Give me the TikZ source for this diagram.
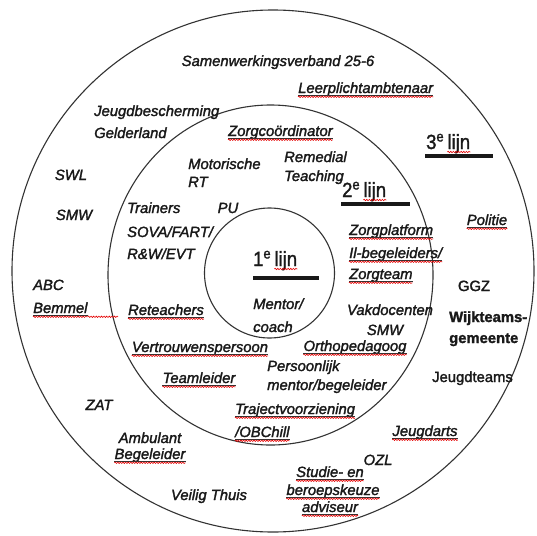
\documentclass[tikz,border=0pt]{standalone}
\usepackage{fontspec}
\setmainfont{Liberation Sans}[FakeBold=1.8]
\newfontfamily\lijfont{Liberation Sans}[FakeStretch=0.9, FakeBold=1.5]
\usetikzlibrary{decorations.pathmorphing}
\newcommand\tf{\fontsize{14.8}{17}\selectfont}
\newcommand\lf{\lijfont\fontsize{20.5}{22}\selectfont}
\begin{document}
\begin{tikzpicture}[x=1pt,y=-1pt,
  ring/.style={draw=black!80, line width=1.1pt},
  bar/.style={draw=black!90, line width=4pt},
  t/.style={inner sep=0pt, font=\tf\itshape, text=black!90},
  tr/.style={inner sep=0pt, font=\tf, text=black!90},
  tb/.style={inner sep=0pt, font=\tf\bfseries, text=black!90},
  lij/.style={inner sep=0pt, font=\lf, text=black!90},
  ulline/.style={draw=black!80, line width=0.6pt},
  squig/.style={draw=red!90!black, line width=0.6pt, decorate,
     decoration={snake, amplitude=0.7pt, segment length=2.6pt}},
  u/.style={append after command={
     ([yshift=-2pt]\tikzlastnode.base west) edge[ulline] ([yshift=-2pt]\tikzlastnode.base east)
     ([yshift=-3.8pt]\tikzlastnode.base west) edge[squig] ([yshift=-3.8pt]\tikzlastnode.base east)}},
  sq/.style={append after command={
     ([yshift=-3pt]\tikzlastnode.base west) edge[squig] ([yshift=-3pt]\tikzlastnode.base east)}}
]
\useasboundingbox (0,0) rectangle (537,535);
\fill[white] (0,0) rectangle (537,535);

% rings
\draw[ring] (273,271) circle[radius=261pt];
\draw[ring] (270.5,275) ellipse[x radius=162.5pt, y radius=170pt];
\draw[ring] (269.5,273) circle[radius=65pt];

% ----- outer ring (3e lijn)
\node[t, anchor=base] (sam) at (278,66) {Samenwerkingsverband 25-6};
\node[t, u, anchor=base west] (leer) at (298,93) {Leerplichtambtenaar};
\node[t, anchor=base west] (jb1) at (94,116) {Jeugdbescherming};
\node[t, anchor=base west] (jb2) at (94,138) {Gelderland};
\node[lij, anchor=base west] (l3a) at (426,149) {3\textsuperscript{e}};
\node[lij, sq, anchor=base west] (l3b) at ([xshift=3pt]l3a.base east) {lijn};
\coordinate (b3a) at (425,156);
\coordinate (b3b) at (493,156);
\draw[bar] (b3a) -- (b3b);
\node[t, anchor=base] (swl) at (71,180) {SWL};
\node[t, anchor=base] (smw) at (74,220) {SMW};
\node[t, anchor=base west] (abc) at (33,290) {ABC};
\node[t, u, anchor=base west] (bem) at (33,313) {Bemmel};
\coordinate (bemx) at (118,316.8);
\draw[squig] ([yshift=-3.8pt]bem.base east) -- (bemx);
\node[t, u, anchor=base] (pol) at (487,225) {Politie};
\node[tr, anchor=base] (ggz) at (474,291) {GGZ};
\node[tb, anchor=base west] (wk1) at (449,322) {Wijkteams-};
\node[tb, anchor=base west] (wk2) at (449,343) {gemeente};
\node[tr, anchor=base west] (jt) at (432,382) {Jeugdteams};
\node[t, anchor=base] (zat) at (99,410) {ZAT};
\node[t, anchor=base] (amb1) at (150,443) {Ambulant};
\node[t, u, anchor=base] (amb2) at (150,459) {Begeleider};
\node[t, anchor=base] (vt) at (209,500) {Veilig Thuis};
\node[t, u, anchor=base] (ja) at (425,436) {Jeugdarts};
\node[t, anchor=base] (ozl) at (378,465) {OZL};
\node[t, u, anchor=base] (st1) at (330,477) {Studie- en};
\node[t, u, anchor=base] (st2) at (333,495) {beroepskeuze};
\node[t, u, anchor=base] (st3) at (330,512) {adviseur};

% ----- middle ring (2e lijn)
\node[t, u, anchor=base west] (zc) at (228,136) {Zorgco\"ordinator};
\node[t, anchor=base west] (mo1) at (188,169) {Motorische};
\node[t, anchor=base west] (mo2) at (188,187) {RT};
\node[t, anchor=base west] (re1) at (284,162) {Remedial};
\node[t, anchor=base west] (re2) at (284,181) {Teaching};
\node[lij, anchor=base west] (l2a) at (342,197) {2\textsuperscript{e}};
\node[lij, sq, anchor=base west] (l2b) at ([xshift=3pt]l2a.base east) {lijn};
\coordinate (b2a) at (341,203.5);
\coordinate (b2b) at (410,203.5);
\draw[bar] (b2a) -- (b2b);
\node[t, anchor=base west] (tr1) at (127,213) {Trainers};
\node[t, anchor=base west] (tr2) at (127,237) {SOVA/FART/};
\node[t, anchor=base west] (tr3) at (127,259) {R\&W/EVT};
\node[t, anchor=base] (pu) at (228,213) {PU};
\node[t, u, anchor=base west] (zp1) at (349,235) {Zorgplatform};
\node[t, u, anchor=base west] (zp2) at (349,258) {Il-begeleiders/};
\node[t, u, anchor=base west] (zp3) at (349,279) {Zorgteam};
\node[t, u, anchor=base] (ret) at (166,315) {Reteachers};
\node[t, anchor=base] (vk1) at (390,315) {Vakdocenten};
\node[t, anchor=base] (vk2) at (385,335) {SMW};
\node[t, u, anchor=base] (ver) at (200,352) {Vertrouwenspersoon};
\node[t, u, anchor=base] (ort) at (355,351) {Orthopedagoog};
\node[t, anchor=base west] (pe1) at (267,371) {Persoonlijk};
\node[t, anchor=base west] (pe2) at (267,390) {mentor/begeleider};
\node[t, u, anchor=base] (tl) at (199,383) {Teamleider};
\node[t, u, anchor=base west] (tj1) at (235,414) {Trajectvoorziening};
\node[t, u, anchor=base west] (tj2) at (235,437) {/OBChill};

% ----- inner circle (1e lijn)
\node[lij, anchor=base west] (l1a) at (253,266) {1\textsuperscript{e}};
\node[lij, sq, anchor=base west] (l1b) at ([xshift=3pt]l1a.base east) {lijn};
\coordinate (b1a) at (253,278);
\coordinate (b1b) at (319,278);
\draw[bar] (b1a) -- (b1b);
\node[t, anchor=base west] (me1) at (253,309) {Mentor/};
\node[t, anchor=base west] (me2) at (253,332) {coach};
\end{tikzpicture}
\end{document}
